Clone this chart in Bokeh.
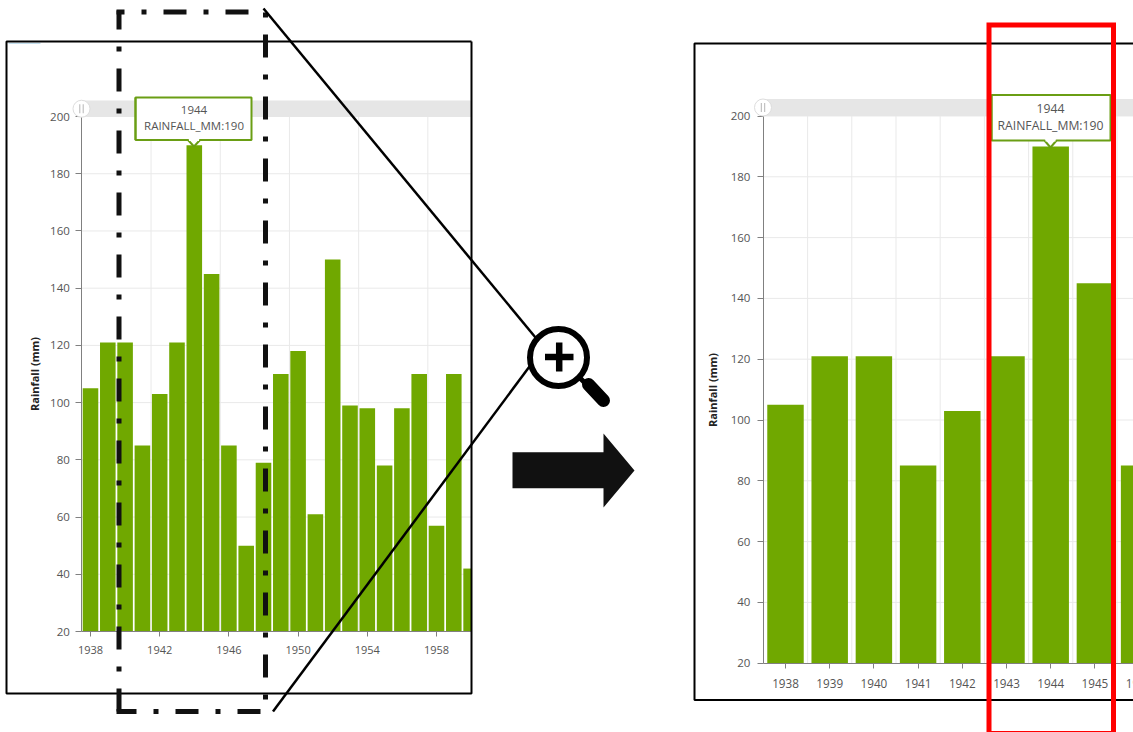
from bokeh.plotting import figure
from bokeh.embed import file_html
from bokeh.resources import INLINE
from bokeh.models import Range1d, LinearAxis, FixedTicker
from bokeh.core.properties import value
import numpy as np

# ---- data ----
years = [1938, 1939, 1940, 1941, 1942, 1943, 1944, 1945, 1946, 1947, 1948, 1949,
         1950, 1951, 1952, 1953, 1954, 1955, 1956, 1957, 1958, 1959, 1960]
rainfall = [105, 121, 121, 85, 103, 121, 190, 145, 85, 50, 79, 110,
            118, 61, 150, 99, 98, 78, 98, 110, 57, 110, 42]
y_ticks = [20, 40, 60, 80, 100, 120, 140, 160, 180, 200]
left_x_ticks = [1938, 1942, 1946, 1950, 1954, 1958]
right_x_ticks = [1938, 1939, 1940, 1941, 1942, 1943, 1944, 1945]
y_title = "Rainfall (mm)"
tip_lines = ["1944", "RAINFALL_MM:190"]

W, H = 1133, 732
GREEN, TIPGREEN, GRID, BAND, TXT, AX = "#70a800", "#6a9e14", "#e9e9e9", "#e6e6e6", "#555555", "#808080"
FONT = "Open Sans"

def xrange_for(px0, per_year):
    return Range1d(1938 - px0 / per_year, 1938 + (W - px0) / per_year)

def yrange_for(px20, per_unit):
    return Range1d(20 + (px20 - H) / per_unit, 20 + px20 / per_unit)

p = figure(width=W, height=H, output_backend="svg", toolbar_location=None,
           x_range=Range1d(0, W), y_range=Range1d(H, 0),
           x_axis_location=None, y_axis_location=None,
           min_border=0, outline_line_color=None)
p.grid.visible = False
p.extra_x_ranges = {"lx": xrange_for(90, 17.3), "rx": xrange_for(785, 44.2)}
p.extra_y_ranges = {"ly": yrange_for(631, 2.861), "ry": yrange_for(662.7, 3.04)}

yrs = np.array(years, dtype=float)
vals = np.array(rainfall, dtype=float)


def chart(xn, yn, ticks_x, bar_w, vgrid, x_end, band, axis_standoffs, title_standoff, xsize):
    xr = p.extra_x_ranges[xn]
    x_per_px = (xr.end - xr.start) / W
    clip = xr.start + x_end * x_per_px
    # grid
    hg = [t for t in y_ticks if t != 20]
    p.segment(x0=[1937.5] * len(hg), x1=[clip] * len(hg), y0=hg, y1=hg, line_color=GRID,
              line_width=1, x_range_name=xn, y_range_name=yn)
    p.segment(x0=vgrid, x1=vgrid, y0=[20] * len(vgrid), y1=[200] * len(vgrid), line_color=GRID,
              line_width=1, x_range_name=xn, y_range_name=yn)
    # bars
    p.quad(left=yrs - bar_w / 2, right=np.minimum(yrs + bar_w / 2, clip), bottom=20, top=vals,
           fill_color=GREEN, line_color=None, x_range_name=xn, y_range_name=yn)
    # axes
    ya = LinearAxis(x_range_name=xn, y_range_name=yn, fixed_location=1937.5, bounds=(20, 200),
                    ticker=FixedTicker(ticks=y_ticks), axis_line_color=AX, major_tick_line_color=AX,
                    major_tick_in=0, major_tick_out=6, minor_tick_line_color=None,
                    major_label_standoff=axis_standoffs[0], major_label_text_color=TXT,
                    major_label_text_font=FONT, major_label_text_font_size="11.5px",
                    axis_label=y_title, axis_label_text_font=FONT, axis_label_text_font_size="11px",
                    axis_label_text_font_style="bold", axis_label_text_color="#222222",
                    axis_label_standoff=title_standoff)
    p.add_layout(ya, "left")
    xa = LinearAxis(x_range_name=xn, y_range_name=yn, fixed_location=20, bounds=(1937.5, clip),
                    ticker=FixedTicker(ticks=ticks_x), axis_line_color=AX, major_tick_line_color=AX,
                    major_tick_in=0, major_tick_out=5, minor_tick_line_color=None,
                    major_label_standoff=axis_standoffs[1], major_label_text_color=TXT,
                    major_label_text_font=FONT, major_label_text_font_size=xsize)
    p.add_layout(xa, "below")
    # scrollbar band and handle
    x0, x1, y0, y1 = band
    p.quad(left=[x0], right=[x1], top=[y0], bottom=[y1], fill_color=BAND, line_color=None, level="annotation")
    cy = (y0 + y1) / 2
    p.circle(x=[x0], y=[cy], radius=8.5, fill_color="white", line_color="#dddddd", line_width=1, level="annotation")
    for dx in (-1.7, 1.7):
        p.line(x=[x0 + dx, x0 + dx], y=[cy - 4.5, cy + 4.5], line_color="#b5b5b5", line_width=1, level="annotation")


chart("lx", "ly", left_x_ticks, 0.9, [1941.5, 1945.5, 1949.5, 1953.5, 1957.5], 471,
      (81, 471, 100, 116.5), (6, 9), 5, "11px")
chart("rx", "ry", right_x_ticks, 0.825,
      [1938.5, 1939.5, 1940.5, 1941.5, 1942.5, 1943.5, 1944.5, 1945.5], 1133,
      (762.5, 1133, 98.5, 115.5), (7, 11), 8, "11.7px")
# the tick label that the page's right edge cuts in the reference
p.text(x=[1946], y=[20], text=["1946"], x_range_name="rx", y_range_name="ry", x_offset=0, y_offset=20.5,
       text_align="center", text_baseline="middle", text_font=value(FONT), text_font_size="11.7px",
       text_color=TXT)


def tooltip(x0, x1, y0, y1, cx, tip, ys, size):
    p.patch(x=[x0, cx - 6, cx, cx + 6, x1, x1, x0],
            y=[y1, y1, tip, y1, y1, y0, y0],
            fill_color="white", line_color=TIPGREEN, line_width=2, level="annotation")
    p.line(x=[cx - 5, cx + 5], y=[y1, y1], line_color="white", line_width=2, level="annotation")
    p.line(x=[x0, x0], y=[y0, y1], line_color=TIPGREEN, line_width=2, level="annotation")
    p.text(x=[cx, cx], y=ys, text=tip_lines, text_align="center", text_baseline="middle",
           text_font=value(FONT), text_font_size=size, text_color=TXT, level="annotation")


tooltip(135, 251, 97, 139.5, 193.5, 146, [109, 125.3], "11.5px")
tooltip(991, 1110, 94.5, 140, 1050, 147, [108, 125], "12.2px")

# ---- frames ----
p.line(x=[471, 6, 6, 471, 471], y=[41, 41, 693, 693, 41], line_color="black", line_width=2, level="overlay")
p.line(x=[1133, 694, 694, 1133], y=[43, 43, 699.5, 699.5], line_color="black", line_width=2, level="overlay")
p.line(x=[8, 40], y=[42.8, 42.8], line_color="#b4d8ea", line_width=1, level="annotation")

# ---- dash-dot selection box ----
DASH = "23 17 5 17"
for xs, ys, off in [([118.5, 118.5], [10, 711], 4), ([116, 260], [711, 711], 3),
                    ([116, 265], [11.5, 11.5], 15), ([265, 265], [11, 700], 39)]:
    p.line(x=xs, y=ys, line_color="#111111", line_width=5, line_dash=DASH, line_dash_offset=off,
           level="overlay")

# ---- zoom lines and magnifier ----
p.line(x=[263, 535], y=[8, 337], line_color="black", line_width=2.5, level="overlay")
p.line(x=[272.5, 529], y=[711, 366], line_color="black", line_width=2.5, level="overlay")
p.circle(x=[558], y=[357], radius=28.5, fill_color="white", line_color="black", line_width=6, level="overlay")
p.line(x=[544.5, 573], y=[356.5, 356.5], line_color="black", line_width=6.5, level="overlay")
p.line(x=[558.7, 558.7], y=[342, 371], line_color="black", line_width=6.5, level="overlay")
p.line(x=[578, 590], y=[376, 388], line_color="black", line_width=5, level="overlay")
p.line(x=[588, 603], y=[384, 400], line_color="black", line_width=13, line_cap="round", level="overlay")

# ---- arrow ----
p.patch(x=[512, 603, 603, 634, 603, 603, 512], y=[451.7, 451.7, 433, 470, 507, 487.7, 487.7],
        fill_color="#111111", line_color=None, level="overlay")

# ---- red highlight box ----
p.line(x=[988.5, 1113, 1113, 988.5, 988.5], y=[24.5, 24.5, 733, 733, 22], line_color="#ff0000",
       line_width=5, line_join="miter", level="overlay")

html = file_html(p, INLINE)
html = html.replace("<head>", "<head><style>html,body{margin:0;padding:0;overflow:hidden}</style>", 1)
open("out.html", "w").write(html)
